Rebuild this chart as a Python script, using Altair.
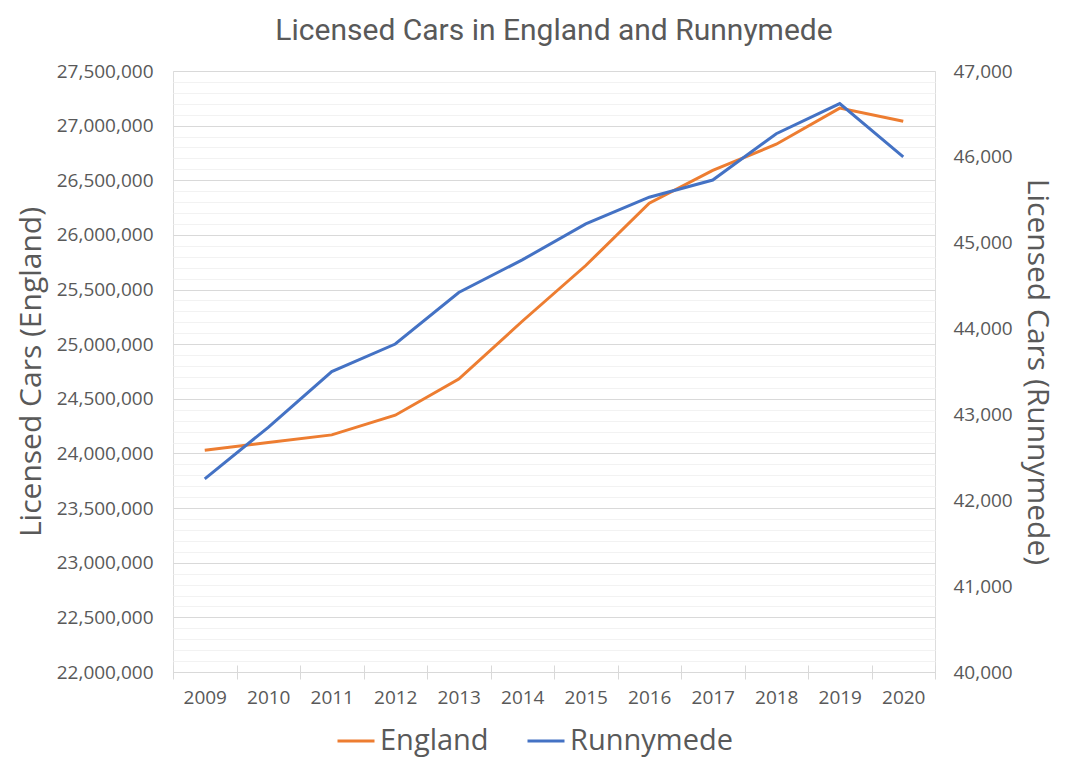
import altair as alt
import pandas as pd

years = [2009, 2010, 2011, 2012, 2013, 2014, 2015, 2016, 2017, 2018, 2019, 2020]
england = [24030000, 24100000, 24170000, 24350000, 24680000, 25210000,
           25720000, 26290000, 26590000, 26830000, 27160000, 27040000]
runnymede = [42250, 42850, 43500, 43820, 44420, 44800,
             45220, 45530, 45730, 46270, 46620, 46000]
series_names = ["England", "Runnymede"]
series_colors = ["#ED7D31", "#4472C4"]
left_ticks = list(range(22000000, 27500001, 100000))
right_ticks = list(range(40000, 47001, 1000))
x_boundaries = [2008.5 + i for i in range(13)]

df_eng = pd.DataFrame({"year": years, "value": england, "series": "England"})
df_run = pd.DataFrame({"year": years, "value": runnymede, "series": "Runnymede"})

FONT = "Open Sans"
TXT = "#595959"
MAJOR = "#D9D9D9"
MINOR = "#F2F2F2"

xscale = alt.Scale(domain=[x_boundaries[0], x_boundaries[-1]], nice=False, zero=False)
color = alt.Color(
    "series:N",
    scale=alt.Scale(domain=series_names, range=series_colors),
    legend=alt.Legend(
        title=None, orient="none", legendX=163, legendY=650, direction="horizontal",
        symbolType="stroke", symbolSize=1369, symbolStrokeWidth=3,
        labelFont=FONT, labelFontSize=29, labelColor=TXT, labelOffset=4,
        columnPadding=32, padding=0, labelLimit=400,
    ),
)

eng = alt.Chart(df_eng).mark_line(strokeWidth=3).encode(
    x=alt.X("year:Q", scale=xscale, axis=alt.Axis(
        values=years, format="d", ticks=False, grid=False, domain=True,
        domainColor=MAJOR, domainWidth=1, labelFont=FONT, labelFontSize=19,
        labelColor=TXT, labelPadding=16, title=None, orient="bottom",
        labelOverlap=False)),
    y=alt.Y("value:Q", scale=alt.Scale(domain=[22000000, 27500000], nice=False, zero=False),
            axis=alt.Axis(
                values=left_ticks, ticks=False, tickSize=0, domain=False, grid=True,
                gridColor={"condition": {"test": "datum.value % 500000 === 0", "value": MAJOR},
                           "value": MINOR},
                gridWidth=1,
                labelExpr="datum.value % 500000 === 0 ? format(datum.value, ',') : ''",
                labelOverlap=False, labelFont=FONT, labelFontSize=19, labelColor=TXT,
                labelPadding=20, title="Licensed Cars (England)", titleFont=FONT,
                titleFontSize=30, titleFontWeight="normal", titleColor=TXT,
                titlePadding=10, orient="left")),
    color=color,
)

run = alt.Chart(df_run).mark_line(strokeWidth=3).encode(
    x=alt.X("year:Q", scale=xscale, axis=alt.Axis(
        values=x_boundaries, labels=False, ticks=True, tickSize=14, tickColor=MAJOR,
        tickWidth=1, domain=False, grid=False, offset=-7, title=None, orient="bottom")),
    y=alt.Y("value:Q", scale=alt.Scale(domain=[40000, 47000], nice=False, zero=False),
            axis=alt.Axis(
                values=right_ticks, labelExpr="format(datum.value, ',')",
                ticks=False, tickSize=0, domain=False,
                grid=False, labelFont=FONT, labelFontSize=19, labelColor=TXT,
                labelPadding=18, title="Licensed Cars (Runnymede)", titleFont=FONT,
                titleFontSize=30, titleFontWeight="normal", titleColor=TXT,
                titlePadding=9, orient="right")),
    color=color,
)

chart = alt.layer(eng, run).resolve_scale(y="independent").resolve_axis(
    x="independent", y="independent"
).properties(
    width=762, height=601,
    title=alt.Title("Licensed Cars in England and Runnymede", font="Roboto", fontSize=30,
                    fontWeight="normal", color=TXT, offset=16, anchor="middle"),
    autosize=alt.AutoSizeParams(type="none"),
    padding={"left": 165, "top": 63, "right": 124, "bottom": 85},
).configure_view(stroke=None).configure(background="white")

chart.save("out.html", embed_options={"renderer": "svg", "actions": False})
